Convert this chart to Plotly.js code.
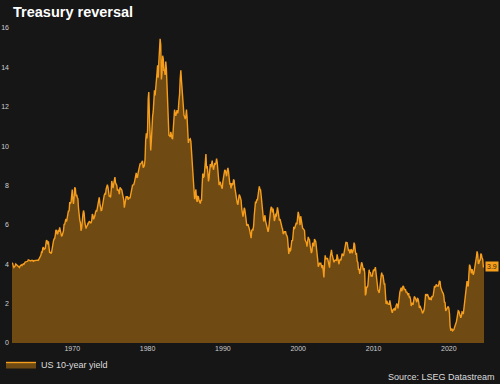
<!DOCTYPE html>
<html>
<head>
<meta charset="utf-8">
<script src="https://cdn.plot.ly/plotly-3.0.1.min.js"></script>
<style>
html,body{margin:0;padding:0;background:#161616;}
#chart{width:500px;height:384px;}
</style>
</head>
<body>
<div id="chart"></div>
<script>
// Monthly US 10-year Treasury yield (%), starting January 1962
const startYear = 1962;
const y1960s = [
 4.08,4.04,3.93,3.84,3.87,3.91,4.01,3.98,3.98,3.93,3.92,3.86,
 3.83,3.92,3.93,3.97,3.93,3.99,4.02,4.00,4.08,4.11,4.12,4.13,
 4.17,4.15,4.22,4.23,4.20,4.17,4.19,4.19,4.20,4.19,4.15,4.18,
 4.19,4.21,4.21,4.20,4.21,4.21,4.20,4.25,4.29,4.35,4.45,4.62,
 4.61,4.83,4.87,4.75,4.78,4.81,5.02,5.22,5.18,5.01,5.16,4.84,
 4.58,4.63,4.54,4.59,4.85,5.02,5.16,5.28,5.30,5.48,5.75,5.70,
 5.53,5.56,5.74,5.64,5.87,5.72,5.50,5.42,5.46,5.58,5.70,6.03,
 6.04,6.19,6.30,6.17,6.32,6.57,6.72,6.69,7.16,7.10,7.14,7.65
];
const y1970s = [
 7.79,7.24,7.07,7.39,7.91,7.84,7.46,7.53,7.39,7.33,6.84,6.39,
 6.24,6.11,5.70,5.83,6.39,6.52,6.73,6.58,6.14,5.93,5.81,5.93,
 5.95,6.08,6.07,6.19,6.13,6.11,6.11,6.21,6.55,6.48,6.28,6.36,
 6.46,6.64,6.71,6.67,6.85,6.90,7.13,7.40,7.09,6.79,6.73,6.74,
 6.99,6.96,7.21,7.51,7.58,7.54,7.81,8.04,8.04,7.90,7.68,7.43,
 7.50,7.39,7.73,8.23,8.06,7.86,8.06,8.40,8.43,8.14,8.05,8.00,
 7.74,7.79,7.73,7.56,7.90,7.86,7.83,7.77,7.59,7.41,7.29,6.87,
 7.21,7.39,7.46,7.37,7.46,7.28,7.33,7.40,7.34,7.52,7.58,7.69,
 8.01,8.03,8.04,8.15,8.35,8.46,8.64,8.41,8.42,8.64,8.81,9.01,
 9.10,9.10,9.12,9.18,9.25,8.91,8.95,9.03,9.33,10.30,10.65,10.39
];
const y1980s = [
 10.80,12.41,12.75,11.47,10.18,9.78,10.25,11.10,11.51,11.75,12.68,12.84,
 12.57,13.19,13.12,13.68,14.10,13.47,14.28,14.94,15.45,15.15,13.39,13.72,
 14.59,14.43,13.86,13.87,13.62,14.30,13.95,13.06,12.34,10.91,10.55,10.54,
 10.46,10.72,10.51,10.40,10.38,10.85,11.38,11.85,11.65,11.54,11.69,11.83,
 11.67,11.84,12.32,12.63,13.41,13.85,13.36,12.72,12.52,12.16,11.57,11.50,
 11.38,11.51,11.86,11.43,10.85,10.16,10.31,10.33,10.37,10.24,9.78,9.26,
 9.19,8.70,7.78,7.30,7.71,7.80,7.30,7.17,7.45,7.43,7.25,7.11,
 7.08,7.25,7.25,8.02,8.61,8.40,8.45,8.76,9.42,9.60,8.86,8.99,
 8.67,8.21,8.37,8.72,9.09,8.92,9.06,9.26,8.98,8.80,8.96,9.11,
 9.09,9.17,9.36,9.18,8.86,8.28,8.02,8.11,8.19,8.01,7.87,7.84
];
const y1990s = [
 8.21,8.47,8.59,8.79,8.76,8.48,8.47,8.75,8.89,8.72,8.39,8.08,
 8.09,7.85,8.11,8.04,8.07,8.28,8.27,7.90,7.65,7.53,7.42,7.09,
 7.03,7.34,7.54,7.48,7.39,7.26,6.84,6.59,6.42,6.59,6.87,6.77,
 6.60,6.26,5.98,5.97,6.04,5.96,5.81,5.68,5.36,5.33,5.72,5.77,
 5.75,5.97,6.48,6.97,7.18,7.10,7.30,7.24,7.46,7.74,7.96,7.81,
 7.78,7.47,7.20,7.06,6.63,6.17,6.28,6.49,6.20,6.04,5.93,5.71,
 5.65,5.81,6.27,6.51,6.74,6.91,6.87,6.64,6.83,6.53,6.20,6.30,
 6.58,6.42,6.69,6.89,6.71,6.49,6.22,6.30,6.21,6.03,5.88,5.81,
 5.54,5.57,5.65,5.64,5.65,5.50,5.46,5.34,4.81,4.53,4.83,4.65,
 4.72,5.00,5.23,5.18,5.54,5.90,5.79,5.94,5.92,6.11,6.03,6.28
];
const y2000s = [
 6.66,6.52,6.26,5.99,6.44,6.10,6.05,5.83,5.80,5.74,5.72,5.24,
 5.16,5.10,4.89,5.14,5.39,5.28,5.24,4.97,4.73,4.57,4.65,5.09,
 5.04,4.91,5.28,5.21,5.16,4.93,4.65,4.26,3.87,3.94,4.05,4.03,
 4.05,3.90,3.81,3.96,3.57,3.33,3.98,4.45,4.27,4.29,4.30,4.27,
 4.15,4.08,3.83,4.35,4.72,4.73,4.50,4.28,4.13,4.10,4.19,4.23,
 4.22,4.17,4.50,4.34,4.14,4.00,4.18,4.26,4.20,4.46,4.54,4.47,
 4.42,4.57,4.72,4.99,5.11,5.11,5.09,4.88,4.72,4.73,4.60,4.56,
 4.76,4.72,4.56,4.69,4.75,5.10,5.00,4.67,4.52,4.53,4.15,4.10,
 3.74,3.74,3.51,3.68,3.88,4.10,4.01,3.89,3.69,3.81,3.53,2.42,
 2.52,2.87,2.82,2.93,3.29,3.72,3.56,3.59,3.40,3.39,3.40,3.59
];
const y2010s = [
 3.73,3.69,3.73,3.85,3.42,3.20,3.01,2.70,2.65,2.54,2.76,3.29,
 3.39,3.58,3.41,3.46,3.17,3.00,3.00,2.30,1.98,2.15,2.01,1.98,
 1.97,1.97,2.17,2.05,1.80,1.62,1.53,1.68,1.72,1.75,1.65,1.72,
 1.91,1.98,1.96,1.76,1.93,2.30,2.58,2.74,2.81,2.62,2.72,2.90,
 2.86,2.71,2.72,2.71,2.56,2.60,2.54,2.42,2.53,2.30,2.33,2.21,
 1.88,1.98,2.04,1.94,2.20,2.36,2.32,2.17,2.17,2.07,2.26,2.24,
 2.09,1.78,1.89,1.81,1.81,1.64,1.50,1.56,1.63,1.76,2.14,2.49,
 2.43,2.42,2.48,2.30,2.30,2.19,2.32,2.21,2.20,2.36,2.35,2.40,
 2.58,2.86,2.84,2.87,2.98,2.91,2.89,2.89,3.00,3.15,3.12,2.83,
 2.71,2.68,2.57,2.53,2.40,2.07,2.06,1.63,1.70,1.71,1.81,1.86
];
const y2020s = [
 1.76,1.50,0.87,0.66,0.67,0.73,0.62,0.65,0.68,0.79,0.87,0.93,
 1.08,1.26,1.61,1.64,1.62,1.52,1.32,1.28,1.37,1.58,1.56,1.47,
 1.76,1.93,2.13,2.75,2.90,3.14,2.90,2.90,3.52,3.98,3.89,3.62,
 3.53,3.75,3.66,3.46,3.57,3.75,3.90,4.17,4.38,4.65,4.50,4.02,
 4.06,4.21,4.21,4.54,4.48,4.31,4.25,3.87,3.88
];
const seriesName = 'US 10-year yield';
const lastLabel = '3.9';
const yTicks = [0,2,4,6,8,10,12,14,16];
const xTickYears = [1970,1980,1990,2000,2010,2020];

const values = [].concat(y1960s, y1970s, y1980s, y1990s, y2000s, y2010s, y2020s);
const dates = values.map((v, i) => {
  const yr = startYear + Math.floor(i / 12);
  const m = (i % 12) + 1;
  return yr + '-' + (m < 10 ? '0' + m : m) + '-01';
});

const trace = {
  x: dates, y: values, type: 'scatter', mode: 'lines', name: seriesName,
  fill: 'tozeroy', fillcolor: '#6f4a13',
  line: {color: '#f59d1c', width: 1.4},
  hoverinfo: 'skip'
};

const layout = {
  width: 500, height: 384,
  paper_bgcolor: '#161616', plot_bgcolor: '#161616',
  margin: {l: 12, r: 16, t: 28, b: 41},
  font: {family: 'Liberation Sans, Arial, sans-serif', color: '#cfcfcf'},
  title: {text: '<b>Treasury reversal</b>', font: {size: 14.5, color: '#ffffff', family: 'Liberation Sans, Arial, sans-serif'},
    x: 0.026, xref: 'container', xanchor: 'left', y: 0.969, yref: 'container', yanchor: 'middle'},
  xaxis: {
    type: 'date', range: [dates[0], dates[dates.length - 1]],
    tickvals: xTickYears.map(y => y + '-01-01'), ticktext: xTickYears.map(String),
    showgrid: false, zeroline: false, showline: false, ticks: '',
    tickfont: {size: 7, color: '#cfcfcf'}, fixedrange: true
  },
  yaxis: {
    range: [0, 16], tickvals: yTicks, ticktext: yTicks.map(String),
    showgrid: false, zeroline: false, showline: false, ticks: '',
    tickfont: {size: 7, color: '#cfcfcf'}, fixedrange: true, ticklabelstandoff: 2
  },
  showlegend: true,
  legend: {orientation: 'h', x: 0.002, xref: 'container', xanchor: 'left', y: 1 - 350/384, yref: 'container', yanchor: 'top',
    font: {size: 9, color: '#dddddd'}, bgcolor: 'rgba(0,0,0,0)'},
  annotations: [
    {x: dates[dates.length - 1], y: values[values.length - 1], xref: 'x', yref: 'y', xanchor: 'left', yanchor: 'middle',
     xshift: 1, text: lastLabel, showarrow: false, bgcolor: '#f59d1c', font: {size: 7, color: '#3a2a08'}, borderpad: 1},
    {x: 1, xref: 'paper', xshift: 13, y: 0, yref: 'paper', yshift: -34, xanchor: 'right', yanchor: 'middle',
     text: 'Source: LSEG Datastream', showarrow: false, font: {size: 9, color: '#dddddd'}}
  ]
};

Plotly.newPlot('chart', [trace], layout, {displayModeBar: false, staticPlot: true});
</script>
</body>
</html>
